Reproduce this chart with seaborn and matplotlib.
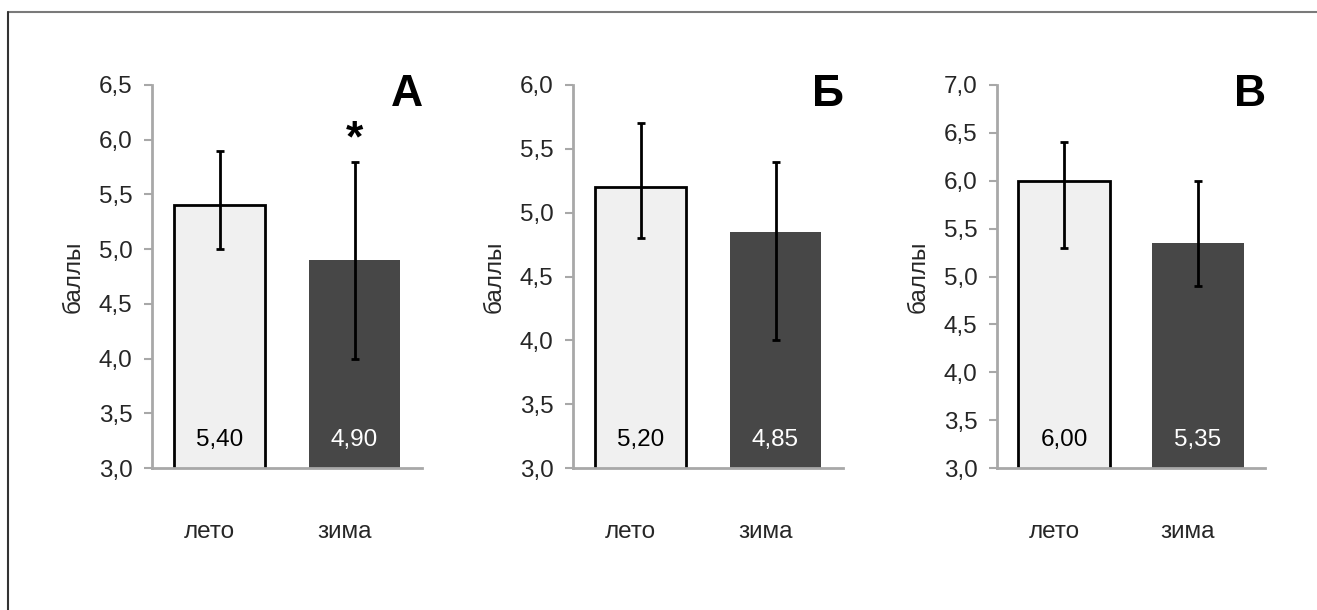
import numpy as np
import pandas as pd
import seaborn as sns
import matplotlib.pyplot as plt
from matplotlib.lines import Line2D
from matplotlib.transforms import ScaledTranslation

##### Data #####
seasons = ['лето', 'зима']
panel_labels = ['А', 'Б', 'В']
means = [[5.40, 4.90], [5.20, 4.85], [6.00, 5.35]]
err_upper = [[5.9, 5.8], [5.7, 5.4], [6.4, 6.0]]
err_lower = [[5.0, 4.0], [4.8, 4.0], [5.3, 4.9]]
value_labels = [['5,40', '4,90'], ['5,20', '4,85'], ['6,00', '5,35']]
y_max = [6.5, 6.0, 7.0]
y_min = 3.0
star_panel = 0
star_bar = 1

##### Style #####
sns.set_theme(style='white')
plt.rcParams['font.family'] = ['Liberation Sans', 'DejaVu Sans']
fs = 17.5
bar_colors = {'лето': '#f0f0f0', 'зима': '#474747'}
spine_color = '#a8a8a8'

fig = plt.figure(figsize=(13.17, 6.1), dpi=100)
lefts = [152, 573, 997]
widths = [270, 270, 268]

for p in range(3):
	ax = fig.add_axes([lefts[p]/1317, (610-468)/610, widths[p]/1317, 383/610])
	df = pd.DataFrame({'season': seasons, 'value': means[p]})
	sns.barplot(data=df, x='season', y='value', hue='season', palette=bar_colors,
		order=seasons, hue_order=seasons, width=0.68, errorbar=None, legend=False,
		ax=ax, zorder=2)

	# edge only on the light bar
	for patch, s in zip(ax.patches, seasons):
		if s == 'лето':
			patch.set_edgecolor('black')
			patch.set_linewidth(2)
		else:
			patch.set_edgecolor('none')

	# asymmetric error bars
	m = np.array(means[p])
	yerr = np.vstack([m - np.array(err_lower[p]), np.array(err_upper[p]) - m])
	ax.errorbar(np.arange(len(seasons)), m, yerr=yerr, fmt='none', ecolor='black',
		elinewidth=2, capsize=3, capthick=2, zorder=3)

	# value labels near the bottom of the bars
	for i, txt in enumerate(value_labels[p]):
		ax.annotate(txt, xy=(i, y_min), xytext=(0, 20), textcoords='offset points',
			ha='center', va='center', fontsize=fs,
			color='black' if seasons[i] == 'лето' else 'white', zorder=4)

	ax.set_xlim(-0.5, 1.5)
	ax.set_ylim(y_min, y_max[p])
	ticks = np.arange(y_min, y_max[p] + 0.01, 0.5)
	ax.set_yticks(ticks)
	ax.set_yticklabels(['{:.1f}'.format(t).replace('.', ',') for t in ticks])
	ax.set_xlabel('')
	ax.set_ylabel('баллы', fontsize=fs, labelpad=10)
	ax.tick_params(axis='y', length=6, width=1.5, color=spine_color, pad=8, labelsize=fs, left=True)
	ax.tick_params(axis='x', length=0, pad=38, labelsize=fs)
	for lab in ax.get_xticklabels():
		lab.set_transform(lab.get_transform() + ScaledTranslation(-10/100, 0, fig.dpi_scale_trans))

	for side in ['top', 'right']:
		ax.spines[side].set_visible(False)
	for side in ['left', 'bottom']:
		ax.spines[side].set_color(spine_color)
		ax.spines[side].set_linewidth(2)
	ax.spines['bottom'].set_zorder(5)

	ax.text(1.005, 0.975, panel_labels[p], transform=ax.transAxes, ha='right', va='center',
		fontsize=32, fontweight='heavy', color='black')

	if p == star_panel:
		ax.annotate('*', xy=(star_bar, err_upper[p][star_bar]), xytext=(0, 7),
			textcoords='offset points', ha='center', va='baseline', fontsize=32,
			fontweight='bold', color='black')

# frame around the figure
fig.add_artist(Line2D([8/1317, 1], [1-12/610, 1-12/610], color='#7a7a7a', linewidth=1.5, transform=fig.transFigure))
fig.add_artist(Line2D([8/1317, 8/1317], [0, 1-12/610], color='#333333', linewidth=1.5, transform=fig.transFigure))

fig.savefig('out.png', dpi=100)
